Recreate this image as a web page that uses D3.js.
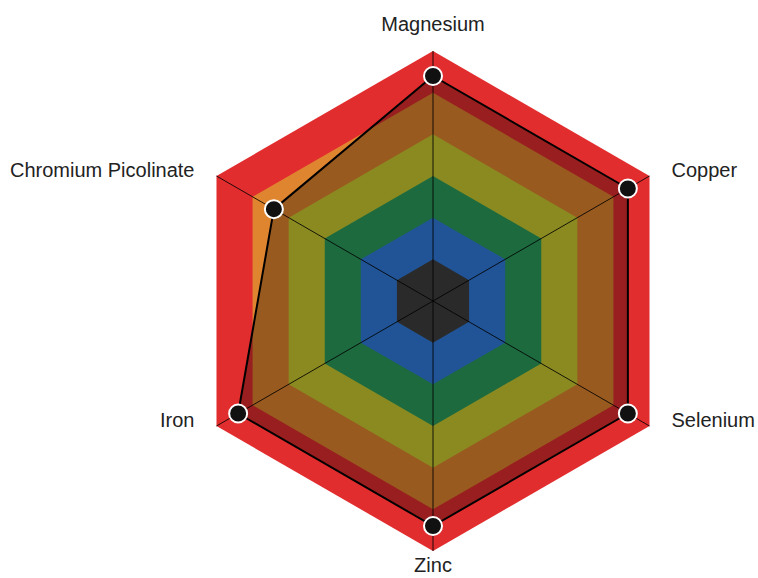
<html>
<head>
<script src="https://d3js.org/d3.v7.min.js"></script>
<style>
  body { margin: 0; background: #fff; }
  text { font-family: "Liberation Sans", Arial, sans-serif; }
</style>
</head>
<body>
<svg width="758" height="578"></svg>
<script>
// chart data
var axes = ["Magnesium", "Copper", "Selenium", "Zinc", "Iron", "Chromium Picolinate"];
var values = [90, 90, 90, 90, 90, 73.5];
var maxValue = 100;
var levels = [1, 2, 3, 4, 5, 6];   // band edges in sixths of the radius
var bandColors = ["#3f3f3f", "#317cdd", "#2b9d5d", "#cccc32", "#e0852f", "#e22d2f"];

var cx = 433, cy = 301, R = 250;
var svg = d3.select("svg");
var g = svg.append("g").attr("transform", "translate(" + cx + "," + cy + ")");

var r = d3.scaleLinear().domain([0, maxValue]).range([0, R]);
var band = d3.scaleLinear().domain([0, 6]).range([0, R]);
var angle = d3.scalePoint().domain(axes).range([0, 2 * Math.PI * 5 / 6]);

function pt(a, rad) {
  return [rad * Math.sin(a), -rad * Math.cos(a)];
}

// bands from outside in
levels.slice().reverse().forEach(function(lv) {
  var pts = axes.map(function(a) { return pt(angle(a), band(lv)); });
  g.append("polygon")
    .attr("points", pts.map(function(p) { return p.join(","); }).join(" "))
    .attr("fill", bandColors[lv - 1]);
});

// data area
var dataPts = axes.map(function(a, i) { return pt(angle(a), r(values[i])); });
g.append("polygon")
  .attr("points", dataPts.map(function(p) { return p.join(","); }).join(" "))
  .attr("fill", "#000").attr("fill-opacity", 0.32)
  .attr("stroke", "#000").attr("stroke-width", 2).attr("stroke-linejoin", "round");

// spokes
axes.forEach(function(a) {
  var p = pt(angle(a), R);
  g.append("line").attr("x1", 0).attr("y1", 0).attr("x2", p[0]).attr("y2", p[1])
    .attr("stroke", "#000").attr("stroke-opacity", 0.85).attr("stroke-width", 1);
});

// points
g.selectAll("circle.pt").data(dataPts).enter().append("circle")
  .attr("class", "pt")
  .attr("cx", function(d) { return d[0]; })
  .attr("cy", function(d) { return d[1]; })
  .attr("r", 9)
  .attr("fill", "#111").attr("stroke", "#fff").attr("stroke-width", 2);

// labels
axes.forEach(function(a) {
  var ang = angle(a);
  var p = pt(ang, R);
  var s = Math.sin(ang), c = Math.cos(ang);
  var x = p[0], y = p[1], anchor = "middle";
  if (Math.abs(s) < 0.01) {
    y = c > 0 ? p[1] - 20 : p[1] + 21;
  } else {
    anchor = s > 0 ? "start" : "end";
    x = p[0] + (s > 0 ? 22 : -22);
    y = p[1] + 1;
  }
  g.append("text").attr("x", x).attr("y", y)
    .attr("text-anchor", anchor)
    .attr("font-size", 20).attr("fill", "#222")
    .text(a);
});
</script>
</body>
</html>
